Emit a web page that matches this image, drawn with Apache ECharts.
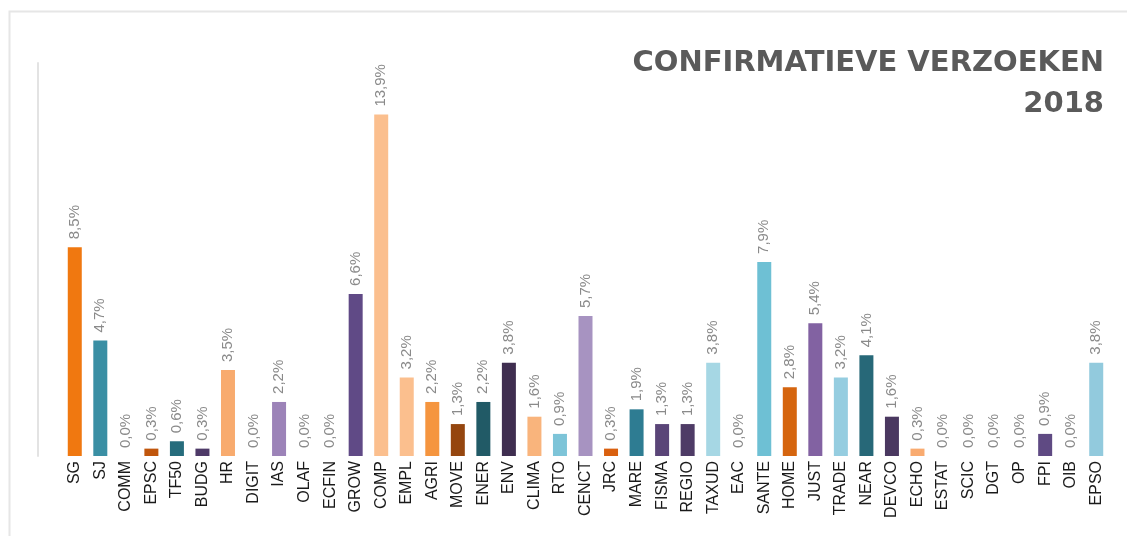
<!DOCTYPE html>
<html>
<head>
<meta charset="utf-8">
<script src="https://cdn.jsdelivr.net/npm/echarts@6/dist/echarts.min.js"></script>
<style>
  html, body { margin: 0; padding: 0; background: #fff; }
  #chart { width: 1127px; height: 536px; }
</style>
</head>
<body>
<div id="chart"></div>
<script>
// diensten (DG's)
const categories = ['SG', 'SJ', 'COMM', 'EPSC', 'TF50', 'BUDG', 'HR', 'DIGIT', 'IAS', 'OLAF', 'ECFIN',
  'GROW', 'COMP', 'EMPL', 'AGRI', 'MOVE', 'ENER', 'ENV', 'CLIMA', 'RTO', 'CENCT', 'JRC', 'MARE',
  'FISMA', 'REGIO', 'TAXUD', 'EAC', 'SANTE', 'HOME', 'JUST', 'TRADE', 'NEAR', 'DEVCO', 'ECHO',
  'ESTAT', 'SCIC', 'DGT', 'OP', 'FPI', 'OIB', 'EPSO'];

// aandeel confirmatieve verzoeken in %
const shares = [8.5, 4.7, 0.0, 0.3, 0.6, 0.3, 3.5, 0.0, 2.2, 0.0, 0.0,
  6.6, 13.9, 3.2, 2.2, 1.3, 2.2, 3.8, 1.6, 0.9, 5.7, 0.3, 1.9,
  1.3, 1.3, 3.8, 0.0, 7.9, 2.8, 5.4, 3.2, 4.1, 1.6, 0.3,
  0.0, 0.0, 0.0, 0.0, 0.9, 0.0, 3.8];

const barColors = ['#f07810', '#3a8fa4', '#f07810', '#c0560c', '#266c7c', '#4e3a68', '#f8ab6e', '#9c83b8', '#9c83b8', '#9c83b8', '#9c83b8',
  '#604a86', '#fbbf8e', '#fbbf8e', '#f5953f', '#95460f', '#215a66', '#3f2e50', '#f9b47c', '#7dc4d8', '#a793c1', '#d9600f', '#2e7c92',
  '#5a4578', '#4e3b66', '#a6d7e4', '#6ec0d4', '#6ec0d4', '#d5650f', '#8262a2', '#95cde0', '#276878', '#4a3860', '#f9ab70',
  '#92cadd', '#92cadd', '#92cadd', '#92cadd', '#5f4a83', '#92cadd', '#92cadd'];

const titleLines = ['CONFIRMATIEVE VERZOEKEN', '2018'];

const myChart = echarts.init(document.getElementById('chart'));

const option = {
  backgroundColor: '#fff',
  animation: false,
  title: {
    text: titleLines.join('\n'),
    left: 1099,
    top: 38,
    textAlign: 'right',
    textStyle: {
      fontFamily: 'DejaVu Sans',
      fontWeight: 'bold',
      fontSize: 29,
      lineHeight: 41,
      color: '#5a5a5a'
    }
  },
  graphic: [
    {
      type: 'rect',
      silent: true,
      shape: { x: 9.5, y: 11.5, width: 1200, height: 600 },
      style: { fill: 'none', stroke: '#e6e6e6', lineWidth: 2 }
    }
  ],
  grid: {
    left: 62,
    right: 18,
    top: 63,
    bottom: 80,
    containLabel: false
  },
  xAxis: {
    type: 'category',
    data: categories,
    axisLine: { show: false },
    axisTick: { show: false },
    axisLabel: {
      interval: 0,
      rotate: 90,
      margin: 5,
      fontFamily: 'Liberation Sans',
      fontSize: 16,
      color: '#1a1a1a'
    }
  },
  yAxis: {
    type: 'value',
    min: 0,
    max: 16,
    offset: 24,
    axisLine: { show: true, lineStyle: { color: '#e3e3e3', width: 2 } },
    axisTick: { show: false },
    axisLabel: { show: false },
    splitLine: { show: false }
  },
  series: [
    {
      type: 'bar',
      barWidth: 14,
      data: shares.map((v, i) => ({ value: v, itemStyle: { color: barColors[i] } })),
      label: {
        show: true,
        position: 'top',
        rotate: 90,
        align: 'left',
        verticalAlign: 'middle',
        distance: 8,
        fontFamily: 'Liberation Sans',
        fontSize: 15,
        color: '#8a8a8a',
        formatter: p => p.value.toFixed(1).replace('.', ',') + '%'
      }
    }
  ]
};

option && myChart.setOption(option);
</script>
</body>
</html>
